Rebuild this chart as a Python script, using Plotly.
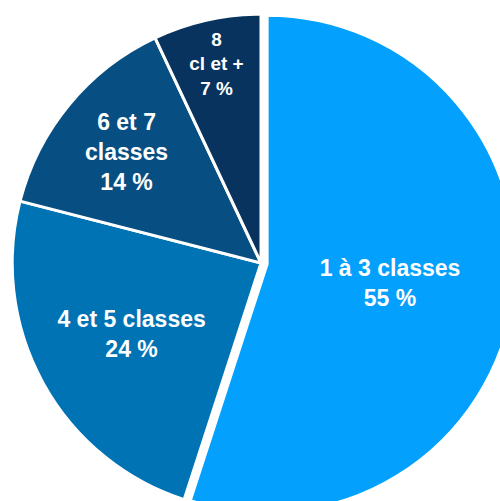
import plotly.graph_objects as go

# share of schools by number of classes
categories = ['1 à 3 classes', '4 et 5 classes', '6 et 7<br>classes', '8<br>cl et +']
shares = [55, 24, 14, 7]
slice_colors = ['#03A0FE', '#0073B5', '#074F83', '#07335E']
pulls = [0.025, 0, 0, 0]

labels = [c + '<br>' + str(v) + ' %' for c, v in zip(categories, shares)]

W, H = 530, 530

fig = go.Figure(go.Pie(
    values=shares,
    labels=categories,
    text=labels,
    textinfo='text',
    textposition='inside',
    insidetextorientation='horizontal',
    sort=False,
    direction='clockwise',
    rotation=0,
    pull=pulls,
    marker=dict(colors=slice_colors, line=dict(color='white', width=3)),
    textfont=dict(family='Liberation Sans', size=23, color='white', weight='bold'),
    hoverinfo='skip',
    domain=dict(x=[6 / W, 516 / W], y=[1 - 518 / H, 1 - 8 / H]),
))

fig.update_layout(
    width=W,
    height=H,
    margin=dict(l=0, r=0, t=0, b=0),
    showlegend=False,
    paper_bgcolor='white',
    plot_bgcolor='white',
)

fig.write_html(
    "out.html",
    config={'displayModeBar': False},
    post_script="document.body.style.margin='0';document.body.style.overflow='hidden';",
)
